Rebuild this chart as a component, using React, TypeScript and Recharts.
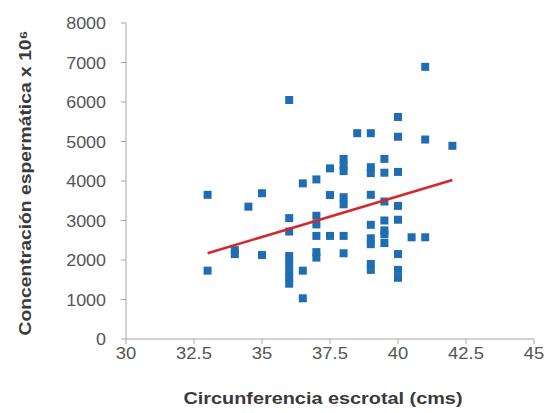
import React from "react";
import { ScatterChart, Scatter, XAxis, YAxis, Label } from "recharts";

// Circunferencia escrotal (cms)
const circunferencia = [
  33, 33,
  34, 34,
  34.5,
  35, 35,
  36, 36, 36, 36, 36, 36, 36, 36,
  36.5, 36.5, 36.5,
  37, 37, 37, 37, 37, 37,
  37.5, 37.5, 37.5,
  38, 38, 38, 38, 38, 38, 38,
  38.5,
  39, 39, 39, 39, 39, 39, 39, 39, 39,
  39.5, 39.5, 39.5, 39.5, 39.5, 39.5, 39.5,
  40, 40, 40, 40, 40, 40, 40, 40,
  40.5,
  41, 41, 41,
  42,
];

// Concentración espermática x 10^6
const concentracion = [
  3650, 1730,
  2150, 2250,
  3350,
  3690, 2125,
  6050, 3060, 2720, 2100, 1900, 1700, 1550, 1400,
  3940, 1730, 1030,
  4040, 3120, 2900, 2610, 2200, 2060,
  4320, 3645, 2610,
  4560, 4400, 4250, 3590, 3410, 2610, 2170,
  5210,
  5210, 4350, 4200, 3650, 2890, 2550, 2400, 1900, 1750,
  4560, 4210, 3480, 3000, 2750, 2430, 2650,
  5620, 5120, 4230, 3370, 3020, 2150, 1750, 1550,
  2575,
  6890, 5050, 2575,
  4890,
];

// Regression line endpoints
const lineaX = [33, 42];
const lineaY = [2170, 4025];

const xTicks = [30, 32.5, 35, 37.5, 40, 42.5, 45];
const yTicks = [0, 1000, 2000, 3000, 4000, 5000, 6000, 7000, 8000];

const puntos = circunferencia.map((x, i) => ({ x, y: concentracion[i] }));
const linea = lineaX.map((x, i) => ({ x, y: lineaY[i] }));

const FONT = "'Liberation Sans', Arial, sans-serif";
const BLUE = "#1f6db2";
const RED = "#d6282b";

const SquareShape = (props: any) => {
  const { cx, cy } = props;
  if (cx == null || cy == null) return <g />;
  const s = 8;
  return <rect x={cx - s / 2} y={cy - s / 2} width={s} height={s} fill={BLUE} />;
};

const EmptyShape = () => <g />;

const XTick = (props: any) => {
  const { x, y, payload } = props;
  return (
    <g transform={`translate(${x},${y + 13}) scale(1.15,1)`}>
      <text x={0} y={0} textAnchor="middle" fill="#555" fontSize={16} fontFamily={FONT}>
        {payload.value}
      </text>
    </g>
  );
};

const YTick = (props: any) => {
  const { x, y, payload } = props;
  return (
    <g transform={`translate(${x - 13},${y + 6}) scale(1.12,1)`}>
      <text x={0} y={0} textAnchor="end" fill="#555" fontSize={16} fontFamily={FONT}>
        {payload.value}
      </text>
    </g>
  );
};

export default function App() {
  return (
    <div style={{ position: "absolute", left: 0, top: 0, width: 552, height: 413, background: "#fff" }}>
      <ScatterChart
        width={552}
        height={413}
        margin={{ top: 23, right: 18, bottom: 0, left: 0 }}
      >
        <XAxis
          type="number"
          dataKey="x"
          domain={[30, 45]}
          ticks={xTicks}
          allowDataOverflow
          height={74}
          tick={<XTick />}
          tickSize={5}
          stroke="#a6a6a6"
          tickLine={{ stroke: "#a6a6a6" }}
        >
          <Label
            content={(p: any) => {
              const vb = p.viewBox || { x: 126, y: 339, width: 408 };
              return (
                <text
                  x={vb.x + vb.width / 2 - 7}
                  y={vb.y + 65}
                  textAnchor="middle"
                  fill="#3a3a3a"
                  fontSize={17}
                  fontWeight="bold"
                  fontFamily={FONT}
                  textLength={279}
                  lengthAdjust="spacingAndGlyphs"
                >
                  Circunferencia escrotal (cms)
                </text>
              );
            }}
          />
        </XAxis>
        <YAxis
          type="number"
          dataKey="y"
          domain={[0, 8000]}
          ticks={yTicks}
          width={126}
          tick={<YTick />}
          tickSize={5}
          stroke="#a6a6a6"
          tickLine={{ stroke: "#a6a6a6" }}
        >
          <Label
            content={(p: any) => {
              const vb = p.viewBox || { x: 0, y: 23, height: 316 };
              const cx = vb.x + 25;
              const cy = vb.y + vb.height / 2 + 2;
              return (
                <text
                  x={cx}
                  y={cy}
                  transform={`rotate(-90 ${cx} ${cy})`}
                  textAnchor="middle"
                  dominantBaseline="central"
                  fill="#3a3a3a"
                  fontSize={17}
                  fontWeight="bold"
                  fontFamily={FONT}
                  textLength={305}
                  lengthAdjust="spacingAndGlyphs"
                >
                  Concentración espermática x 10⁶
                </text>
              );
            }}
          />
        </YAxis>
        <Scatter data={puntos} shape={SquareShape} isAnimationActive={false} />
        <Scatter
          data={linea}
          shape={EmptyShape}
          line={{ stroke: RED, strokeWidth: 2.5 }}
          isAnimationActive={false}
        />
      </ScatterChart>
    </div>
  );
}
